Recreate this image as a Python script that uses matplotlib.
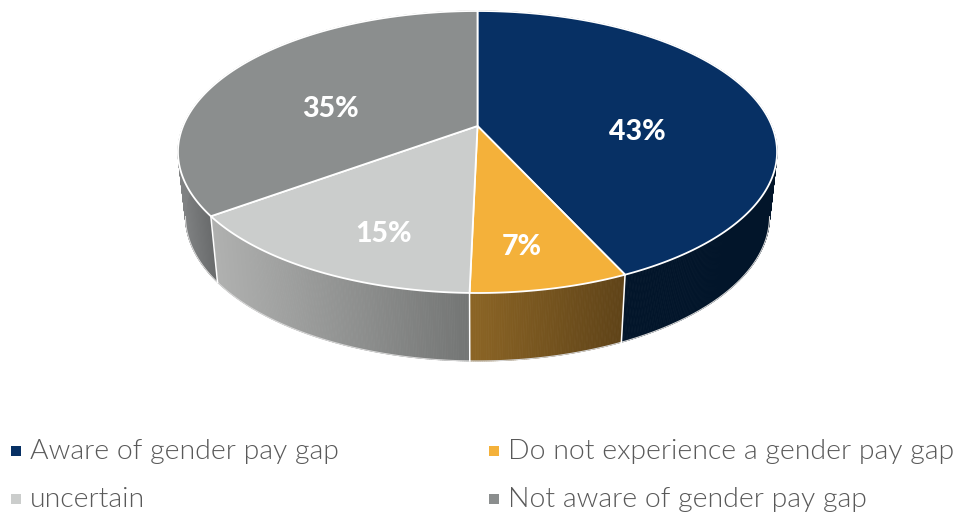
import matplotlib
matplotlib.use("Agg")
import matplotlib.pyplot as plt
from matplotlib.collections import PolyCollection
from matplotlib.colors import to_rgb
import numpy as np

categories = ["Aware of gender pay gap", "Do not experience a gender pay gap",
              "uncertain", "Not aware of gender pay gap"]
values = [43.15, 7.2, 14.6, 35.05]
labels = ["43%", "7%", "15%", "35%"]

top_colors = ["#073064", "#f4b13a", "#cbcdcc", "#8b8e8e"]
# side wall goes from left colour to right colour
side_colors = [("#02152a", "#02152a"), ("#8c6525", "#5f4318"),
               ("#b0b1b0", "#737574"), ("#808283", "#696b6c")]

label_pos = [(637, 132), (522, 247), (384, 234), (330, 109)]
legend_pos = [(11, 30, 459, 451), (489, 508, 459, 451),
              (11, 30, 507, 499), (489, 508, 507, 499)]

# pie geometry in pixels, circle seen in perspective
cx, cy = 477.5, 126
A, B, k = 294.4, 136.2, 0.1844
shrink = 0.975


def top_xy(frac):
    th = np.pi / 2 - 2 * np.pi * np.asarray(frac)
    u, v = np.cos(th), np.sin(th)
    w = 1 + k * v
    return cx + A * u / w, cy - B * v / w


def bottom_xy(frac):
    x, y = top_xy(frac)
    return cx + (x - cx) * shrink, y + 66 + (y - 216) * 0.026


fig = plt.figure(figsize=(9.59, 5.12), dpi=100)
ax = fig.add_axes([0, 0, 1, 1])
ax.set_xlim(0, 959)
ax.set_ylim(512, 0)
ax.axis("off")

edges = np.cumsum([0] + values) / 100

# side walls first, the top faces cover the back of them
for i in range(4):
    f = np.linspace(edges[i], edges[i + 1], int(values[i] * 12) + 2)
    xt, yt = top_xy(f)
    xb, yb = bottom_xy(f)
    front = yt > cy + 26
    xmin, xmax = xt[front].min(), xt[front].max()
    c0, c1 = np.array(to_rgb(side_colors[i][0])), np.array(to_rgb(side_colors[i][1]))
    polys, cols = [], []
    for j in range(len(f) - 1):
        polys.append([(xt[j], yt[j]), (xt[j + 1], yt[j + 1]), (xb[j + 1], yb[j + 1]), (xb[j], yb[j])])
        t = np.clip(((xt[j] + xt[j + 1]) / 2 - xmin) / (xmax - xmin), 0, 1)
        cols.append(c0 + (c1 - c0) * t)
    ax.add_collection(PolyCollection(polys, facecolors=cols, edgecolors=cols, linewidths=0.6, zorder=1))
    ax.plot(xb[front], yb[front], color="#d6d6d6", lw=0.8, zorder=2)

# white lines between the wall pieces
for e in edges[1:-1]:
    xt, yt = top_xy(e)
    xb, yb = bottom_xy(e)
    if yt > cy:
        ax.plot([xt, xb], [yt, yb], color="white", lw=1.1, zorder=3)

# top faces
for i in range(4):
    f = np.linspace(edges[i], edges[i + 1], 200)
    xt, yt = top_xy(f)
    ax.fill(np.r_[cx, xt], np.r_[cy, yt], facecolor=top_colors[i], edgecolor="white",
            lw=1.3, joinstyle="round", zorder=4)

for i in range(4):
    ax.text(label_pos[i][0], label_pos[i][1], labels[i], color="white", fontsize=20.5,
            family="Lato", weight=900, ha="center", va="center", zorder=5)

# legend
for i in range(4):
    mx, tx, base, my = legend_pos[i]
    ax.fill([mx, mx + 10, mx + 10, mx], [my - 5, my - 5, my + 5, my + 5], color=top_colors[i], lw=0)
    ax.text(tx, base, categories[i], color="#595959", fontsize=20.45, family="Lato", weight=300,
            ha="left", va="baseline")

fig.savefig("out.png", dpi=100)
